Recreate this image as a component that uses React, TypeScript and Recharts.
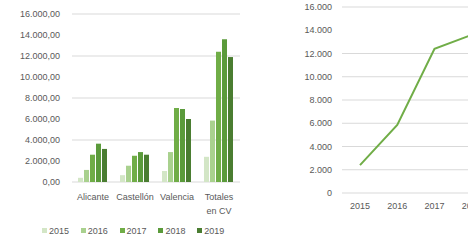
import React from 'react';
import { BarChart, Bar, LineChart, Line, XAxis, YAxis, CartesianGrid } from 'recharts';

const categories = ['Alicante', 'Castellón', 'Valencia', 'Totales en CV'];
const years = ['2015', '2016', '2017', '2018', '2019'];
const v2015 = [400, 650, 1050, 2400];
const v2016 = [1150, 1550, 2850, 5850];
const v2017 = [2600, 2500, 7050, 12400];
const v2018 = [3650, 2850, 6950, 13600];
const v2019 = [3150, 2600, 6000, 11900];
const seriesValues = [v2015, v2016, v2017, v2018, v2019];
const barColors = ['#d3e6c6', '#a9d18e', '#70ad47', '#5b9b3b', '#4a7d31'];
const yTicks = [0, 2000, 4000, 6000, 8000, 10000, 12000, 14000, 16000];
const lineValues = [2400, 5850, 12400, 13600, 11900];
const lineColor = '#70ad47';

const barData = categories.map((c, i) => {
  const row: Record<string, string | number> = { name: c };
  years.forEach((y, k) => {
    row[y] = seriesValues[k][i];
  });
  return row;
});
const lineData = years.map((y, i) => ({ year: y, value: lineValues[i] }));

const FONT = '"Liberation Sans", Arial, sans-serif';
const TXT = '#595959';

const fmtDec = (v: number) => {
  const s = Math.round(v).toString().replace(/\B(?=(\d{3})+(?!\d))/g, '.');
  return s + ',00';
};
const fmtInt = (v: number) => Math.round(v).toString().replace(/\B(?=(\d{3})+(?!\d))/g, '.');

const splitLabel = (s: string): string[] => {
  const words = s.split(' ');
  if (words.length <= 1) return [s];
  return [words[0], words.slice(1).join(' ')];
};

const CatTick = (props: any) => {
  const { x, y, payload } = props;
  const lines = splitLabel(String(payload.value));
  return (
    <text x={x} y={y} textAnchor="middle" fontSize={9} fontFamily={FONT} fill={TXT}>
      {lines.map((l, i) => (
        <tspan key={i} x={x} dy={i === 0 ? 6.5 : 14}>
          {l}
        </tspan>
      ))}
    </text>
  );
};

export default function App() {
  return (
    <div
      style={{
        position: 'absolute',
        left: 0,
        top: 0,
        width: 468,
        height: 242,
        overflow: 'hidden',
        background: '#ffffff',
      }}
    >
      <div style={{ position: 'absolute', left: 0, top: 0 }}>
        <BarChart
          width={240}
          height={242}
          data={barData}
          margin={{ top: 14, right: 0, bottom: 30, left: 0 }}
          barCategoryGap={6}
          barGap={1}
        >
          <CartesianGrid vertical={false} stroke="#d9d9d9" />
          <XAxis
            dataKey="name"
            axisLine={false}
            tickLine={false}
            tickSize={0}
            tickMargin={11}
            height={30}
            interval={0}
            tick={<CatTick />}
          />
          <YAxis
            width={72}
            domain={[0, 16000]}
            ticks={yTicks}
            axisLine={false}
            tickLine={false}
            tickSize={0}
            tickMargin={12}
            tickFormatter={fmtDec}
            tick={{ fontSize: 9, fontFamily: FONT, fill: TXT }}
          />
          {years.map((y, k) => (
            <Bar key={y} dataKey={y} fill={barColors[k]} isAnimationActive={false} />
          ))}
        </BarChart>
        <div
          style={{
            position: 'absolute',
            left: 42,
            top: 225,
            display: 'flex',
            fontFamily: FONT,
            fontSize: 9,
            color: TXT,
            whiteSpace: 'nowrap',
          }}
        >
          {years.map((y, k) => (
            <div key={y} style={{ display: 'flex', alignItems: 'center', width: 38.8, height: 11 }}>
              <span
                style={{
                  display: 'inline-block',
                  width: 5,
                  height: 5,
                  background: barColors[k],
                  marginRight: 2,
                }}
              />
              <span>{y}</span>
            </div>
          ))}
        </div>
      </div>
      <div style={{ position: 'absolute', left: 240, top: 0 }}>
        <LineChart
          width={292}
          height={242}
          data={lineData}
          margin={{ top: 7, right: 5, bottom: 20, left: 0 }}
        >
          <CartesianGrid vertical={false} stroke="#d9d9d9" />
          <XAxis
            dataKey="year"
            axisLine={false}
            tickLine={false}
            tickSize={0}
            tickMargin={10}
            height={29}
            interval={0}
            padding={{ left: 18, right: 18 }}
            tick={{ fontSize: 9, fontFamily: FONT, fill: TXT }}
          />
          <YAxis
            width={102}
            domain={[0, 16000]}
            ticks={yTicks}
            axisLine={false}
            tickLine={false}
            tickSize={0}
            tickMargin={10}
            tickFormatter={fmtInt}
            tick={{ fontSize: 9, fontFamily: FONT, fill: TXT }}
          />
          <Line
            type="linear"
            dataKey="value"
            stroke={lineColor}
            strokeWidth={2}
            dot={false}
            isAnimationActive={false}
          />
        </LineChart>
      </div>
    </div>
  );
}
